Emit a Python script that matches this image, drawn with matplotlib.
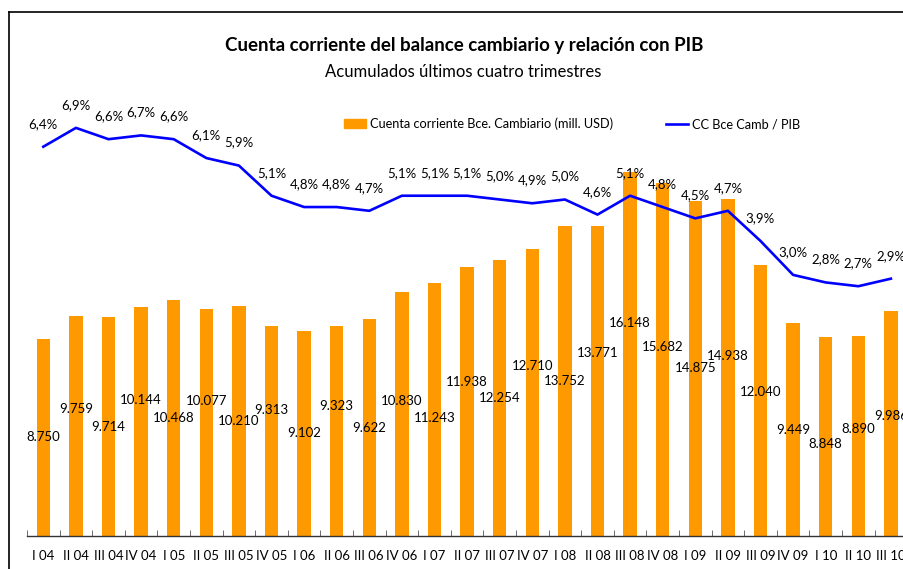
import matplotlib
matplotlib.use("Agg")
import matplotlib.pyplot as plt
from matplotlib.lines import Line2D
from matplotlib.patches import Patch

quarters = ["I 04", "II 04", "III 04", "IV 04", "I 05", "II 05", "III 05", "IV 05",
            "I 06", "II 06", "III 06", "IV 06", "I 07", "II 07", "III 07", "IV 07",
            "I 08", "II 08", "III 08", "IV 08", "I 09", "II 09", "III 09", "IV 09",
            "I 10", "II 10", "III 10"]
cuenta = [8750, 9759, 9714, 10144, 10468, 10077, 10210, 9313,
          9102, 9323, 9622, 10830, 11243, 11938, 12254, 12710,
          13752, 13771, 16148, 15682, 14875, 14938, 12040, 9449,
          8848, 8890, 9986]
pct = [6.4, 6.9, 6.6, 6.7, 6.6, 6.1, 5.9, 5.1,
       4.8, 4.8, 4.7, 5.1, 5.1, 5.1, 5.0, 4.9,
       5.0, 4.6, 5.1, 4.8, 4.5, 4.7, 3.9, 3.0,
       2.8, 2.7, 2.9]

# vertical shift (pixels, positive = downwards) of each bar label from the bar middle
label_shift = [0, -17, 0, -22, 0, -21, 0, -21, 0, -25, 0, -13, 9, -19, 0, -27,
               0, -28, -31, -12, 0, -12, -8, 0, 8, -7, -7]

plt.rcParams['font.family'] = ['Lato', 'DejaVu Sans']

W, H = 904, 569
fig = plt.figure(figsize=(W / 100, H / 100), dpi=100)

n = len(quarters)
spacing = 32.6
left_px = 27
right_px = left_px + n * spacing
bottom_px = 536
top_px = 100
ax = fig.add_axes([left_px / W, (H - bottom_px) / H, (right_px - left_px) / W, (bottom_px - top_px) / H])
x = list(range(n))
ax.bar(x, cuenta, width=0.41, color='#FF9900', zorder=2)
ax.set_xlim(-0.5, n - 0.5)
units_per_px = 16148 / 364
ax.set_ylim(0, (bottom_px - top_px) * units_per_px)

ax2 = ax.twinx()
px_per_pct = 37.7
zero_y = 388
ax2.set_ylim(-(bottom_px - zero_y) / px_per_pct, (zero_y - top_px) / px_per_pct)
ax2.plot(x, pct, color='#0000FF', lw=1.9, zorder=3)

for a in (ax, ax2):
    for s in ('top', 'left', 'right'):
        a.spines[s].set_visible(False)
    a.set_yticks([])
ax2.spines['bottom'].set_visible(False)
ax.spines['bottom'].set_color('#333333')
ax.spines['bottom'].set_linewidth(1.0)
ax.set_xticks(x)
ax.set_xticklabels(quarters, fontsize=9.5)
ax.tick_params(axis='x', which='major', length=0, pad=10)
ax.set_xticks([i - 0.5 for i in range(n + 1)], minor=True)
ax.tick_params(axis='x', which='minor', direction='in', length=4, color='#555555')

for i, v in enumerate(cuenta):
    ax.annotate(f"{v:,}".replace(",", "."), (i, v / 2), xytext=(0, -label_shift[i]),
                textcoords='offset pixels', ha='center', va='center', fontsize=9.5, zorder=4)
for i, p in enumerate(pct):
    ax2.annotate(f"{p:.1f}%".replace(".", ","), (i, p), xytext=(0, 16.5), textcoords='offset points',
                 ha='center', va='center', fontsize=9.5)

fig.text(464 / W, 1 - 45 / H, "Cuenta corriente del balance cambiario y relación con PIB",
         ha='center', va='center', fontsize=13.5, fontweight='bold')
fig.text(463 / W, 1 - 72 / H, "Acumulados últimos cuatro trimestres",
         ha='center', va='center', fontsize=12)

handles = [Patch(color='#FF9900'), Line2D([0], [0], color='#0000FF', lw=1.9)]
labels = ["Cuenta corriente Bce. Cambiario (mill. USD)", "CC Bce Camb / PIB"]
fig.legend(handles, labels, loc='center', bbox_to_anchor=(572 / W, 1 - 124 / H), ncol=2,
           frameon=False, fontsize=9.2, columnspacing=4.2, handlelength=1.7, handletextpad=0.3)

fig.add_artist(Line2D([9 / W, 9 / W], [0, 1 - 12 / H], color='black', lw=1.2, transform=fig.transFigure))
fig.add_artist(Line2D([9 / W, 1], [1 - 12 / H, 1 - 12 / H], color='black', lw=1.2, transform=fig.transFigure))

fig.savefig("out.png", dpi=100)
